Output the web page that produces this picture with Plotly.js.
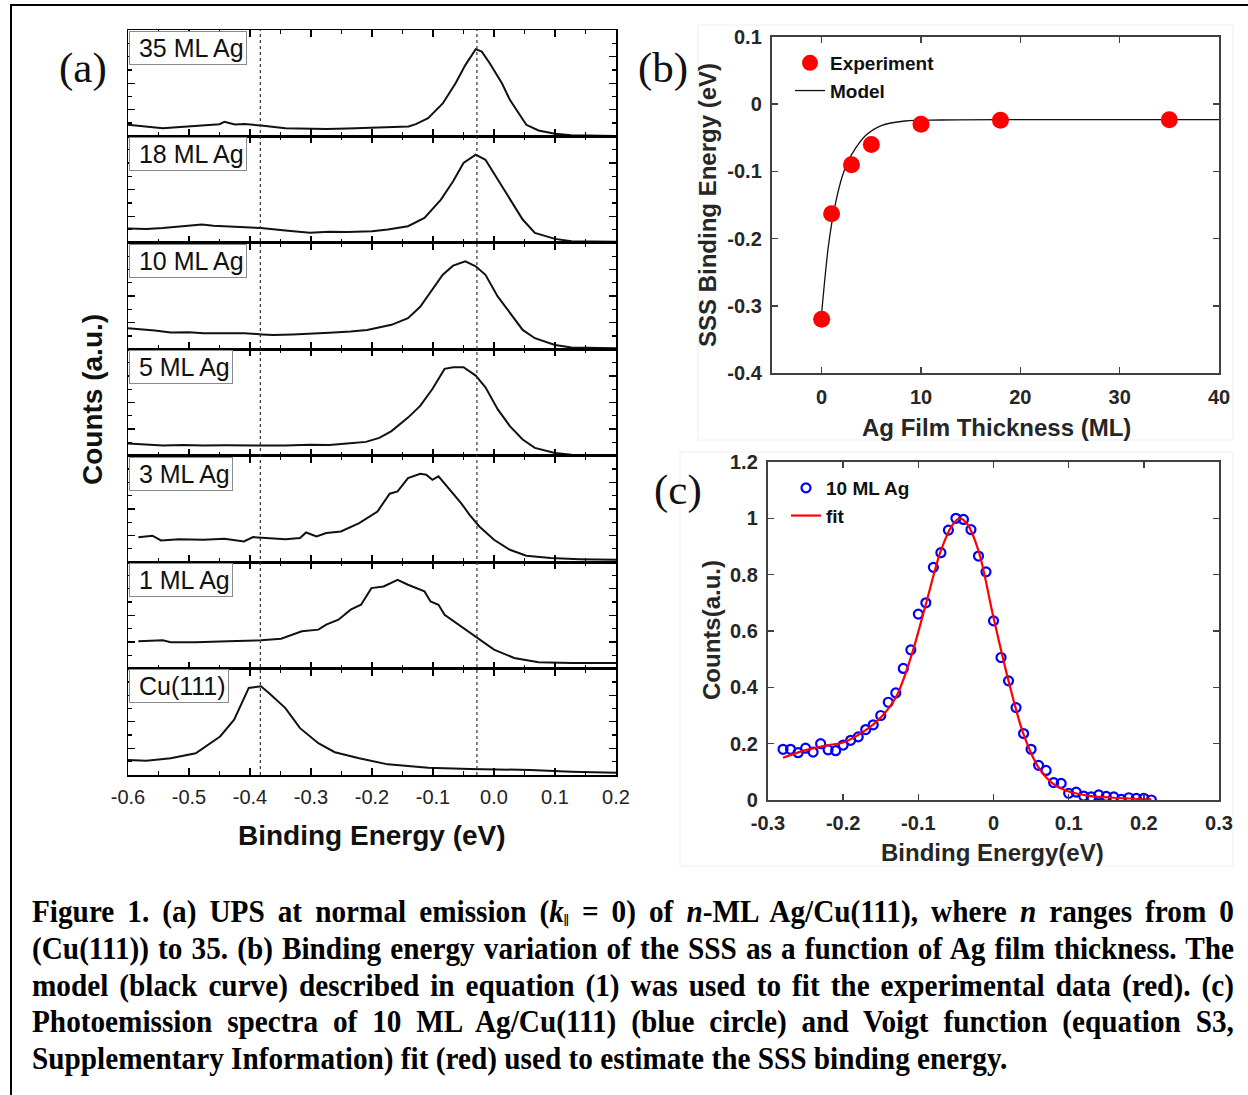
<!DOCTYPE html>
<html>
<head>
<meta charset="utf-8">
<script src="https://cdn.plot.ly/plotly-3.0.1.min.js"></script>
<style>
  html, body { margin: 0; padding: 0; background: #fff; }
  #wrap { position: relative; width: 1248px; height: 1095px; overflow: hidden; }
  #chart { position: absolute; left: 0; top: 0; width: 1248px; height: 1095px; }
  #caption { position: absolute; left: 32px; top: 893px; width: 1315px;
    transform: scaleX(0.914); transform-origin: 0 0;
    font-family: "Liberation Serif", "Times New Roman", serif; font-weight: bold;
    font-size: 32px; line-height: 36.8px; color: #000; }
  #caption div { white-space: nowrap; text-align: justify; text-align-last: justify; height: 36.8px; }
  #caption div.last { text-align-last: left; }
  #caption .par { font-size: 17px; vertical-align: -0.25em; line-height: 0; font-style: normal; }
</style>
</head>
<body>
<div id="wrap">
  <div id="chart"></div>
  <div id="caption">
    <div>Figure 1. (a) UPS at normal emission (<i>k</i><span class="par">‖</span> = 0) of <i>n</i>-ML Ag/Cu(111), where <i>n</i> ranges from 0</div>
    <div>(Cu(111)) to 35. (b) Binding energy variation of the SSS as a function of Ag film thickness. The</div>
    <div>model (black curve) described in equation (1) was used to fit the experimental data (red). (c)</div>
    <div>Photoemission spectra of 10 ML Ag/Cu(111) (blue circle) and Voigt function (equation S3,</div>
    <div class="last">Supplementary Information) fit (red) used to estimate the SSS binding energy.</div>
  </div>
</div>
<script>
// ---------------- DATA ----------------
// Panel (a): UPS spectra, binding energy (eV) vs counts (a.u., normalised per panel)
const spectraLabels = ["35 ML Ag", "18 ML Ag", "10 ML Ag", "5 ML Ag", "3 ML Ag", "1 ML Ag", "Cu(111)"];

const ml35_x = [-0.6,-0.590,-0.577,-0.560,-0.543,-0.520,-0.503,-0.480,-0.463,-0.450,-0.442,-0.432,-0.425,-0.409,-0.395,-0.382,-0.342,-0.300,-0.275,-0.240,-0.208,-0.180,-0.154,-0.140,-0.128,-0.108,-0.084,-0.063,-0.047,-0.030,-0.020,-0.007,0.013,0.026,0.044,0.053,0.073,0.100,0.127,0.2];
const ml35_y = [0.11,0.104,0.094,0.088,0.078,0.086,0.094,0.10,0.11,0.115,0.137,0.118,0.112,0.116,0.11,0.103,0.078,0.074,0.069,0.075,0.081,0.085,0.094,0.093,0.116,0.172,0.31,0.5,0.67,0.82,0.797,0.688,0.5,0.344,0.1875,0.109,0.056,0.025,0.01,0.005];

const ml18_x = [-0.6,-0.570,-0.543,-0.510,-0.479,-0.460,-0.436,-0.410,-0.382,-0.342,-0.302,-0.270,-0.241,-0.200,-0.174,-0.141,-0.114,-0.087,-0.067,-0.050,-0.030,-0.014,0.006,0.026,0.047,0.067,0.100,0.127,0.2];
const ml18_y = [0.134,0.13,0.14,0.155,0.172,0.16,0.156,0.15,0.14,0.116,0.094,0.104,0.103,0.11,0.125,0.156,0.234,0.406,0.578,0.75,0.828,0.78,0.594,0.406,0.219,0.094,0.0375,0.016,0.01];

const ml10_x = [-0.6,-0.580,-0.556,-0.530,-0.500,-0.476,-0.440,-0.409,-0.380,-0.362,-0.330,-0.302,-0.270,-0.235,-0.208,-0.168,-0.141,-0.121,-0.101,-0.084,-0.067,-0.047,-0.030,-0.014,0.006,0.026,0.047,0.067,0.100,0.127,0.2];
const ml10_y = [0.198,0.19,0.176,0.157,0.16,0.151,0.148,0.151,0.14,0.135,0.14,0.145,0.155,0.167,0.182,0.23,0.292,0.40,0.56,0.70,0.786,0.827,0.78,0.70,0.497,0.34,0.182,0.104,0.041,0.016,0.01];

const ml5_x = [-0.6,-0.570,-0.543,-0.510,-0.476,-0.440,-0.409,-0.370,-0.342,-0.302,-0.270,-0.241,-0.210,-0.188,-0.168,-0.141,-0.121,-0.101,-0.081,-0.067,-0.050,-0.030,-0.014,0.006,0.026,0.047,0.067,0.100,0.127,0.2];
const ml5_y = [0.114,0.105,0.095,0.1,0.095,0.098,0.095,0.093,0.095,0.104,0.1,0.114,0.13,0.168,0.231,0.358,0.468,0.627,0.816,0.832,0.832,0.753,0.642,0.437,0.278,0.152,0.073,0.025,0.01,0.003];

const ml3_x = [-0.583,-0.560,-0.546,-0.516,-0.476,-0.442,-0.410,-0.395,-0.342,-0.318,-0.308,-0.291,-0.275,-0.251,-0.221,-0.191,-0.171,-0.158,-0.141,-0.121,-0.111,-0.101,-0.091,-0.074,-0.054,-0.040,-0.024,0.000,0.026,0.053,0.093,0.140,0.2];
const ml3_y = [0.235,0.248,0.204,0.216,0.21,0.219,0.194,0.235,0.216,0.226,0.279,0.241,0.273,0.288,0.367,0.476,0.643,0.665,0.79,0.831,0.821,0.774,0.806,0.687,0.555,0.445,0.335,0.21,0.116,0.06,0.038,0.028,0.022];

const ml1_x = [-0.583,-0.543,-0.530,-0.489,-0.436,-0.382,-0.349,-0.315,-0.288,-0.275,-0.255,-0.235,-0.218,-0.201,-0.181,-0.158,-0.141,-0.114,-0.104,-0.091,-0.081,-0.054,-0.027,0.000,0.033,0.073,0.127,0.2];
const ml1_y = [0.256,0.266,0.247,0.247,0.256,0.266,0.281,0.35,0.366,0.4125,0.459,0.553,0.6,0.756,0.772,0.834,0.7875,0.725,0.631,0.6,0.506,0.397,0.2875,0.178,0.1,0.059,0.053,0.053];

const cu_x = [-0.6,-0.570,-0.530,-0.489,-0.449,-0.426,-0.402,-0.382,-0.369,-0.342,-0.318,-0.288,-0.261,-0.221,-0.174,-0.108,-0.040,0.060,0.127,0.2];
const cu_y = [0.142,0.135,0.157,0.204,0.362,0.519,0.818,0.833,0.77,0.629,0.44,0.299,0.214,0.157,0.1,0.069,0.057,0.047,0.031,0.022];

const peakRefLines = [-0.383, -0.028];   // dotted guide lines (eV)
const energyTickVals = [-0.6,-0.5,-0.4,-0.3,-0.2,-0.1,0.0,0.1,0.2];
const energyTickText = ["-0.6","-0.5","-0.4","-0.3","-0.2","-0.1","0.0","0.1","0.2"];

// Panel (b): SSS binding energy vs Ag thickness
const thickness = [0, 1, 3, 5, 10, 18, 35];
const sssEnergy = [-0.32, -0.163, -0.09, -0.06, -0.03, -0.024, -0.023];
const modelX = [0, 0.28, 0.67, 1.07, 1.5, 2.06, 2.5, 3.05, 4.4, 6, 8.4, 12, 20, 30, 40];
const modelY = [-0.31, -0.266, -0.212, -0.172, -0.14, -0.108, -0.09, -0.074, -0.047, -0.032, -0.025, -0.0235, -0.023, -0.023, -0.023];
const thickTickVals = [0, 10, 20, 30, 40];
const sssTickVals = [-0.4, -0.3, -0.2, -0.1, 0, 0.1];
const sssTickText = ["-0.4", "-0.3", "-0.2", "-0.1", "0", "0.1"];

// Panel (c): 10 ML Ag spectrum and Voigt fit
const specC_x = [-0.28,-0.27,-0.26,-0.25,-0.24,-0.23,-0.22,-0.21,-0.20,-0.19,-0.18,-0.17,-0.16,-0.15,-0.14,-0.13,-0.12,-0.11,-0.10,-0.09,-0.08,-0.07,-0.06,-0.05,-0.04,-0.03,-0.02,-0.01,0.00,0.01,0.02,0.03,0.04,0.05,0.06,0.07,0.08,0.09,0.10,0.11,0.12,0.13,0.14,0.15,0.16,0.17,0.18,0.19,0.20,0.21];
const specC_y = [0.18,0.18,0.168,0.184,0.17,0.20,0.178,0.175,0.195,0.212,0.224,0.25,0.267,0.30,0.347,0.38,0.467,0.533,0.66,0.70,0.826,0.878,0.958,1.0,0.996,0.96,0.866,0.81,0.636,0.506,0.423,0.328,0.236,0.18,0.123,0.105,0.062,0.059,0.024,0.028,0.014,0.011,0.018,0.013,0.011,0.002,0.008,0.006,0.006,0.0];
const fitX = [-0.28,-0.25,-0.22,-0.2,-0.17,-0.15,-0.13,-0.11,-0.09,-0.07,-0.055,-0.045,-0.035,-0.02,0,0.02,0.04,0.06,0.08,0.1,0.13,0.16,0.21];
const fitY = [0.15,0.177,0.195,0.204,0.248,0.293,0.364,0.506,0.695,0.885,0.975,1.0,0.98,0.885,0.648,0.423,0.233,0.115,0.056,0.03,0.014,0.008,0.002];
const cTickValsX = [-0.3,-0.2,-0.1,0,0.1,0.2,0.3];
const cTickTextX = ["-0.3","-0.2","-0.1","0","0.1","0.2","0.3"];
const cTickValsY = [0,0.2,0.4,0.6,0.8,1,1.2];
const cTickTextY = ["0","0.2","0.4","0.6","0.8","1","1.2"];

// ---------------- LAYOUT ----------------
const W = 1248, H = 1095;
const px = v => v / W;
const py = v => 1 - v / H;

const spectraX = [ml35_x, ml18_x, ml10_x, ml5_x, ml3_x, ml1_x, cu_x];
const spectraY = [ml35_y, ml18_y, ml10_y, ml5_y, ml3_y, ml1_y, cu_y];

const aTop = 30, aBot = 775, aLeft = 128, aRight = 616;
const aH = (aBot - aTop) / spectraLabels.length;

const data = [];
const layout = {
  width: W, height: H,
  margin: {l: 0, r: 0, t: 0, b: 0},
  paper_bgcolor: "white", plot_bgcolor: "rgba(0,0,0,0)",
  showlegend: true,
  font: {family: "Liberation Sans, Arial, sans-serif", color: "#000"},
  shapes: [], annotations: []
};

const sansA = "Liberation Sans, Arial, sans-serif";
spectraLabels.forEach((lab, i) => {
  const n = i + 1;
  const xn = n === 1 ? "x" : "x" + n;
  const yn = n === 1 ? "y" : "y" + n;
  data.push({
    x: spectraX[i], y: spectraY[i], xaxis: xn, yaxis: yn,
    type: "scatter", mode: "lines", showlegend: false,
    line: {color: "#111", width: 2}, hoverinfo: "skip"
  });
  const top = aTop + i * aH, bot = top + aH;
  const xa = {
    domain: [px(aLeft), px(aRight)], range: [-0.6, 0.2], anchor: yn,
    showline: true, linecolor: "#000", linewidth: 1.5, mirror: "allticks",
    ticks: "inside", ticklen: 7, tickwidth: 1.3, tickcolor: "#000",
    tickmode: "array", tickvals: energyTickVals, ticktext: energyTickText,
    showticklabels: i === spectraLabels.length - 1, ticklabelstandoff: 3,
    tickfont: {family: sansA, size: 20, color: "#222"},
    minor: {tickmode: "linear", tick0: -0.6, dtick: 0.05, ticks: "inside", ticklen: 4, tickcolor: "#000", tickwidth: 1.3},
    showgrid: false, zeroline: false, fixedrange: true
  };
  if (n > 1) xa.matches = "x";
  layout[n === 1 ? "xaxis" : "xaxis" + n] = xa;
  layout[n === 1 ? "yaxis" : "yaxis" + n] = {
    domain: [py(bot), py(top)], range: [0, 1], anchor: xn,
    showline: true, linecolor: "#000", linewidth: 1.5, mirror: "allticks",
    ticks: "inside", ticklen: 7, tickwidth: 1.3, tickcolor: "#000",
    tickmode: "array", tickvals: [0.25, 0.5, 0.75], showticklabels: false,
    minor: {tickmode: "array", tickvals: [0.125, 0.375, 0.625, 0.875], ticks: "inside", ticklen: 4, tickcolor: "#000", tickwidth: 1.3},
    showgrid: false, zeroline: false, fixedrange: true
  };
  layout.annotations.push({
    text: "\u00a0" + lab, xref: "paper", yref: "paper", x: px(aLeft + 0.8), y: py(top + 0.8),
    xanchor: "left", yanchor: "top", showarrow: false,
    bordercolor: "#8a8a8a", borderwidth: 1, borderpad: 2, bgcolor: "white",
    font: {family: sansA, size: 25, color: "#111"}
  });
});

peakRefLines.forEach(v => {
  layout.shapes.push({type: "line", xref: "x", yref: "paper", x0: v, x1: v,
    y0: py(aBot), y1: py(aTop), line: {color: "#333", width: 1.2, dash: "dot"}, layer: "above"});
});

// Panel (b)
const boldSans = {family: sansA, size: 20, color: "#262626", weight: "bold"};
const axColor = "#404040";
data.push({x: modelX, y: modelY, xaxis: "x8", yaxis: "y8", type: "scatter", mode: "lines",
  name: "Model", line: {color: "#111", width: 1.3, shape: "spline"}, legend: "legend"});
data.push({x: thickness, y: sssEnergy, xaxis: "x8", yaxis: "y8", type: "scatter", mode: "markers",
  name: "Experiment", marker: {color: "#ff0000", size: 17}, legend: "legend"});

layout.xaxis8 = {domain: [px(772), px(1219)], range: [-5, 40], anchor: "y8",
  showline: true, linecolor: axColor, linewidth: 2.2, mirror: "allticks",
  ticks: "inside", ticklen: 6, tickwidth: 1.5, tickcolor: axColor,
  tickmode: "array", tickvals: thickTickVals, tickfont: boldSans, ticklabelstandoff: 5,
  showgrid: false, zeroline: false, fixedrange: true};
layout.yaxis8 = {domain: [py(373), py(37)], range: [-0.4, 0.1], anchor: "x8",
  showline: true, linecolor: axColor, linewidth: 2.2, mirror: "allticks",
  ticks: "inside", ticklen: 6, tickwidth: 1.5, tickcolor: axColor,
  tickmode: "array", tickvals: sssTickVals, ticktext: sssTickText, tickfont: boldSans, ticklabelstandoff: 4,
  showgrid: false, zeroline: false, fixedrange: true};
layout.legend = {x: px(790), y: py(44), xanchor: "left", yanchor: "top", bgcolor: "rgba(0,0,0,0)",
  font: {family: sansA, size: 19, color: "#111", weight: "bold"}, traceorder: "reversed", itemwidth: 30, tracegroupgap: 0};

// Panel (c)
data.push({x: specC_x, y: specC_y, xaxis: "x9", yaxis: "y9", type: "scatter", mode: "markers",
  name: "10 ML Ag", marker: {color: "#0000ff", size: 9, symbol: "circle-open", line: {color: "#0000ff", width: 2.2}}, legend: "legend2"});
data.push({x: fitX, y: fitY, xaxis: "x9", yaxis: "y9", type: "scatter", mode: "lines",
  name: "fit", line: {color: "#ff0000", width: 2.2, shape: "spline"}, legend: "legend2"});

layout.xaxis9 = {domain: [px(768), px(1219)], range: [-0.3, 0.3], anchor: "y9",
  showline: true, linecolor: axColor, linewidth: 2.2, mirror: "allticks",
  ticks: "inside", ticklen: 6, tickwidth: 1.5, tickcolor: axColor,
  tickmode: "array", tickvals: cTickValsX, ticktext: cTickTextX, tickfont: boldSans, ticklabelstandoff: 4,
  showgrid: false, zeroline: false, fixedrange: true};
layout.yaxis9 = {domain: [py(800), py(462)], range: [0, 1.2], anchor: "x9",
  showline: true, linecolor: axColor, linewidth: 2.2, mirror: "allticks",
  ticks: "inside", ticklen: 6, tickwidth: 1.5, tickcolor: axColor,
  tickmode: "array", tickvals: cTickValsY, ticktext: cTickTextY, tickfont: boldSans, ticklabelstandoff: 4,
  showgrid: false, zeroline: false, fixedrange: true};
layout.legend2 = {x: px(786), y: py(469), xanchor: "left", yanchor: "top", bgcolor: "rgba(0,0,0,0)",
  font: {family: sansA, size: 19, color: "#111", weight: "bold"}, itemwidth: 30, tracegroupgap: 0};

// Titles / panel letters
const ann = (text, x, y, font, extra) => layout.annotations.push(Object.assign({
  text, xref: "paper", yref: "paper", x: px(x), y: py(y), xanchor: "center", yanchor: "middle",
  showarrow: false, font}, extra || {}));
const titleBoldA = {family: sansA, size: 28, color: "#111", weight: "bold"};
const titleBoldB = {family: sansA, size: 24, color: "#262626", weight: "bold"};
const serifLetter = {family: "Liberation Serif, Times New Roman, serif", size: 43, color: "#111"};
ann("Binding Energy (eV)", 372, 835, titleBoldA);
ann("Counts (a.u.)", 92, 400, titleBoldA, {textangle: -90});
ann("Ag Film Thickness (ML)", 996, 427, titleBoldB);
ann("SSS Binding Energy (eV)", 708, 205, titleBoldB, {textangle: -90});
ann("Binding Energy(eV)", 993, 853, titleBoldB);
ann("Counts(a.u.)", 711, 630, titleBoldB, {textangle: -90});
ann("(a)", 83, 68, serifLetter);
ann("(b)", 663, 68, serifLetter);
ann("(c)", 678, 490, serifLetter);

// faint pasted-image frames and outer figure frame
layout.shapes.push({type: "rect", xref: "paper", yref: "paper", x0: px(698), x1: px(1233), y0: py(440), y1: py(25),
  line: {color: "#efefef", width: 1}, layer: "below"});
layout.shapes.push({type: "rect", xref: "paper", yref: "paper", x0: px(680), x1: px(1233), y0: py(866), y1: py(452),
  line: {color: "#efefef", width: 1}, layer: "below"});
layout.shapes.push({type: "line", xref: "paper", yref: "paper", x0: px(10), x1: px(1248), y0: py(5), y1: py(5),
  line: {color: "#000", width: 2}});
layout.shapes.push({type: "line", xref: "paper", yref: "paper", x0: px(11), x1: px(11), y0: py(5), y1: py(1095),
  line: {color: "#000", width: 2}});

Plotly.newPlot("chart", data, layout, {displayModeBar: false, staticPlot: true});
</script>
</body>
</html>
